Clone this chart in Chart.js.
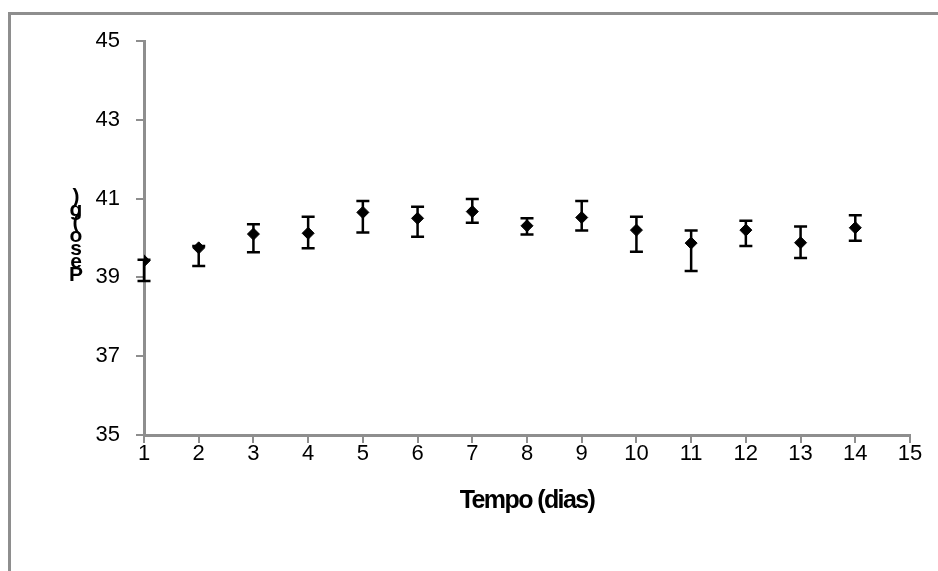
<!DOCTYPE html>
<html>
<head>
<meta charset="utf-8">
<script src="https://cdn.jsdelivr.net/npm/chart.js@4"></script>
<style>
  body { margin: 0; background: #fff; overflow: hidden; }
  #wrap { position: relative; width: 938px; height: 571px; }
  #frame { position: absolute; left: 8px; top: 12px; width: 1000px; height: 1000px; border: 3px solid #8e8e8e; }
  canvas { position: absolute; left: 0; top: 0; }
</style>
</head>
<body>
<div id="wrap">
  <div id="frame"></div>
  <canvas id="myChart" width="938" height="571"></canvas>
</div>
<script>
const days = [1, 2, 3, 4, 5, 6, 7, 8, 9, 10, 11, 12, 13, 14];
const peso = [39.42, 39.75, 40.10, 40.12, 40.65, 40.50, 40.67, 40.31, 40.52, 40.20, 39.87, 40.20, 39.88, 40.26];
// error bar ends (upper / lower)
const pesoHigh = [39.45, 39.80, 40.35, 40.54, 40.94, 40.79, 40.99, 40.50, 40.94, 40.54, 40.19, 40.44, 40.29, 40.58];
const pesoLow = [38.91, 39.29, 39.64, 39.74, 40.14, 40.03, 40.39, 40.09, 40.19, 39.65, 39.16, 39.80, 39.49, 39.93];
const xTitle = "Tempo (dias)";
const yTitle = "Peso (g)";

const axisGray = "#8e8e8e";

const errorBars = {
  id: "errorBars",
  afterDatasetsDraw(chart) {
    const ctx = chart.ctx;
    const xs = chart.scales.x;
    const ys = chart.scales.y;
    ctx.save();
    ctx.strokeStyle = "#000";
    ctx.lineWidth = 2.5;
    for (let i = 0; i < days.length; i++) {
      const x = xs.getPixelForValue(days[i]);
      const yh = ys.getPixelForValue(pesoHigh[i]);
      const yl = ys.getPixelForValue(pesoLow[i]);
      ctx.beginPath();
      ctx.moveTo(x, yh);
      ctx.lineTo(x, yl);
      ctx.moveTo(x - 6.5, yh);
      ctx.lineTo(x + 6.5, yh);
      ctx.moveTo(x - 6.5, yl);
      ctx.lineTo(x + 6.5, yl);
      ctx.stroke();
    }
    ctx.restore();
  },
  afterDraw(chart) {
    const ctx = chart.ctx;
    const area = chart.chartArea;
    ctx.save();
    ctx.fillStyle = "#000";
    ctx.textAlign = "center";
    ctx.textBaseline = "middle";
    ctx.font = "bold 25px 'Liberation Sans', Arial, sans-serif";
    if ("letterSpacing" in ctx) ctx.letterSpacing = "-1.6px";
    ctx.fillText(xTitle, (area.left + area.right) / 2, 501);
    // y title: letters stacked upright, read bottom to top
    ctx.font = "bold 21px 'Liberation Sans', Arial, sans-serif";
    if ("letterSpacing" in ctx) ctx.letterSpacing = "0px";
    ctx.textBaseline = "alphabetic";
    const chars = yTitle.split("");
    let y = 281;
    for (let i = 0; i < chars.length; i++) {
      if (chars[i] === " ") { continue; }
      ctx.fillText(chars[i], 76, y);
      y -= 13;
    }
    ctx.restore();
  }
};

const data = {
  datasets: [
    {
      label: yTitle,
      data: days.map((d, i) => ({ x: d, y: peso[i] })),
      backgroundColor: "#000",
      borderColor: "#000",
      pointStyle: "rectRot",
      pointRadius: 6,
      showLine: false,
    },
  ],
};

const config = {
  type: "scatter",
  data: data,
  options: {
    responsive: false,
    animation: false,
    layout: { padding: { left: 0, right: 28, top: 41, bottom: 0 } },
    plugins: { legend: { display: false }, tooltip: { enabled: false } },
    scales: {
      x: {
        type: "linear",
        min: 1,
        max: 15,
        afterFit: (s) => { s.height = 136; },
        ticks: {
          stepSize: 1,
          padding: -2,
          color: "#000",
          font: { family: "'Liberation Sans', Arial, sans-serif", size: 22 },
        },
        grid: { drawOnChartArea: false, color: axisGray, lineWidth: 2, tickLength: 8 },
        border: { color: axisGray, width: 3 },
      },
      y: {
        min: 35,
        max: 45,
        afterFit: (s) => { s.width = 144; },
        ticks: {
          stepSize: 2,
          padding: 16,
          color: "#000",
          font: { family: "'Liberation Sans', Arial, sans-serif", size: 22 },
        },
        grid: { drawOnChartArea: false, color: axisGray, lineWidth: 2, tickLength: 8 },
        border: { color: axisGray, width: 3 },
      },
    },
  },
  plugins: [errorBars],
};
const myChart = new Chart(document.getElementById("myChart"), config);
</script>
</body>
</html>
